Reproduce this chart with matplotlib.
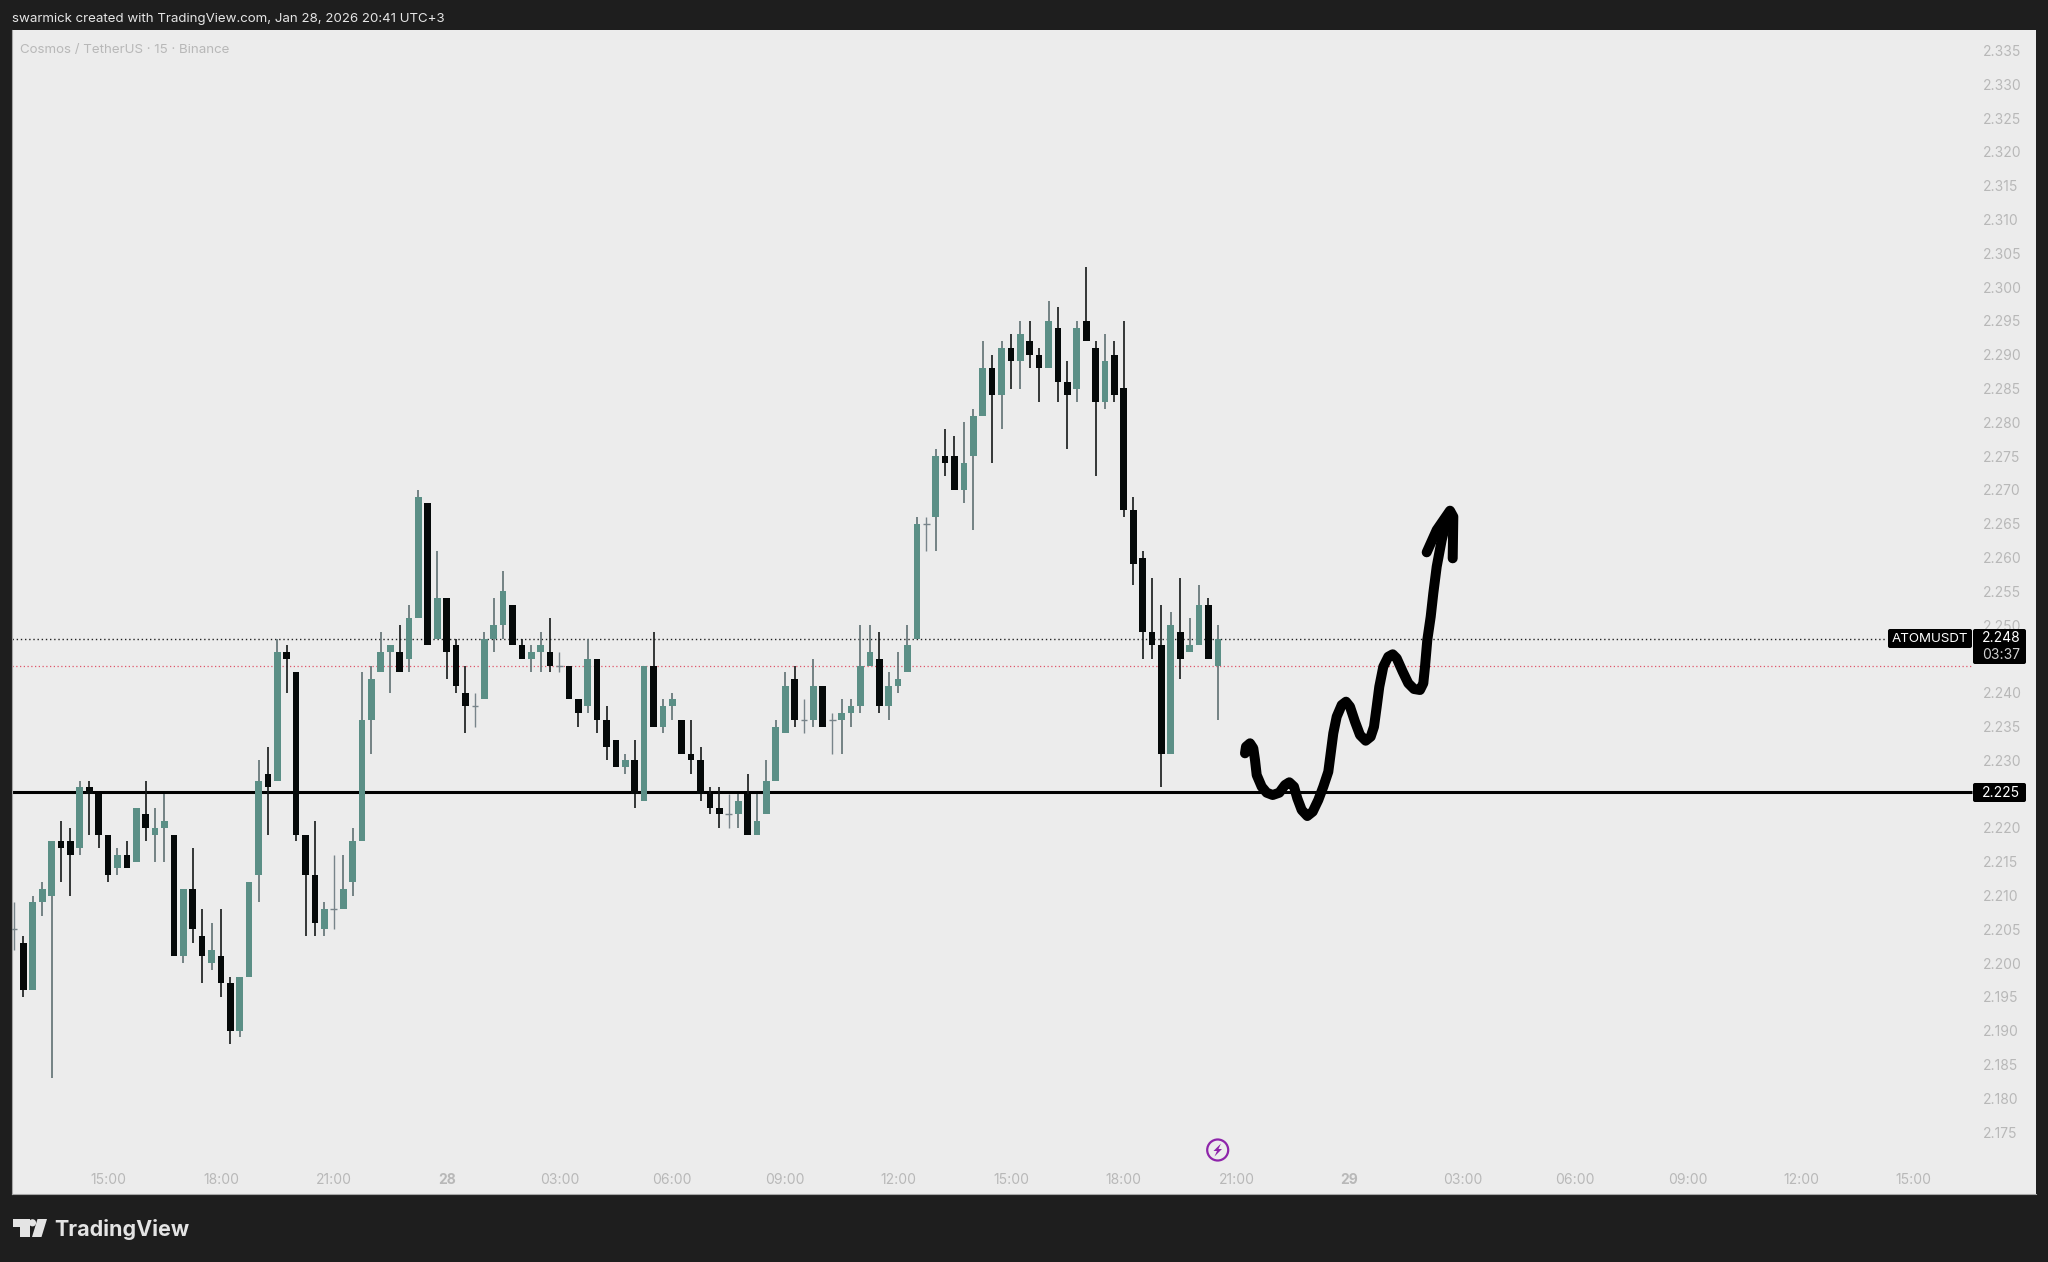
import matplotlib
matplotlib.use("Agg")
import matplotlib.pyplot as plt
from matplotlib.patches import Circle, FancyBboxPatch, Polygon

plt.rcParams["font.family"] = ["Inter", "DejaVu Sans"]

# 15 minute candles, first bar is 12:30
opens = [2.205, 2.203, 2.196, 2.209, 2.210, 2.218, 2.218, 2.217, 2.226, 2.225,
         2.219, 2.214, 2.216, 2.215, 2.222, 2.219, 2.220, 2.219, 2.201, 2.211,
         2.204, 2.200, 2.201, 2.197, 2.190, 2.198, 2.213, 2.228, 2.227, 2.246,
         2.243, 2.219, 2.213, 2.205, 2.208, 2.208, 2.212, 2.218, 2.236, 2.243,
         2.246, 2.246, 2.245, 2.251, 2.268, 2.248, 2.254, 2.247, 2.240, 2.238,
         2.239, 2.248, 2.250, 2.253, 2.247, 2.245, 2.246, 2.246, 2.244, 2.244,
         2.239, 2.238, 2.245, 2.236, 2.233, 2.229, 2.230, 2.224, 2.244, 2.235,
         2.238, 2.236, 2.231, 2.230, 2.225, 2.223, 2.222, 2.222, 2.225, 2.219,
         2.222, 2.227, 2.234, 2.242, 2.236, 2.236, 2.241, 2.236, 2.236, 2.237,
         2.238, 2.244, 2.245, 2.238, 2.241, 2.243, 2.248, 2.265, 2.266, 2.275,
         2.275, 2.270, 2.275, 2.281, 2.288, 2.284, 2.291, 2.289, 2.292, 2.290,
         2.288, 2.294, 2.286, 2.285, 2.295, 2.291, 2.283, 2.290, 2.285, 2.267,
         2.260, 2.249, 2.247, 2.231, 2.249, 2.246, 2.247, 2.253, 2.244]
closes = [2.205, 2.196, 2.209, 2.211, 2.218, 2.217, 2.216, 2.226, 2.225, 2.219,
          2.213, 2.216, 2.214, 2.223, 2.220, 2.220, 2.221, 2.201, 2.211, 2.205,
          2.201, 2.202, 2.197, 2.190, 2.198, 2.212, 2.227, 2.226, 2.246, 2.245,
          2.219, 2.213, 2.206, 2.208, 2.208, 2.211, 2.218, 2.236, 2.242, 2.246,
          2.247, 2.243, 2.251, 2.269, 2.247, 2.254, 2.246, 2.241, 2.238, 2.238,
          2.248, 2.250, 2.255, 2.247, 2.245, 2.246, 2.247, 2.244, 2.244, 2.239,
          2.237, 2.245, 2.236, 2.232, 2.229, 2.230, 2.225, 2.244, 2.235, 2.238,
          2.239, 2.231, 2.230, 2.225, 2.223, 2.222, 2.222, 2.224, 2.219, 2.221,
          2.227, 2.235, 2.241, 2.236, 2.236, 2.241, 2.235, 2.236, 2.237, 2.238,
          2.244, 2.246, 2.238, 2.241, 2.242, 2.247, 2.265, 2.265, 2.275, 2.274,
          2.270, 2.274, 2.281, 2.288, 2.284, 2.291, 2.289, 2.293, 2.290, 2.288,
          2.295, 2.286, 2.284, 2.294, 2.292, 2.283, 2.289, 2.284, 2.267, 2.259,
          2.249, 2.247, 2.231, 2.250, 2.245, 2.247, 2.253, 2.245, 2.248]
highs = [2.209, 2.204, 2.210, 2.212, 2.218, 2.221, 2.220, 2.227, 2.227, 2.225,
         2.219, 2.217, 2.218, 2.223, 2.227, 2.223, 2.225, 2.219, 2.211, 2.217,
         2.208, 2.206, 2.208, 2.198, 2.198, 2.212, 2.230, 2.232, 2.248, 2.247,
         2.243, 2.219, 2.221, 2.209, 2.216, 2.216, 2.220, 2.243, 2.244, 2.249,
         2.247, 2.250, 2.253, 2.270, 2.268, 2.261, 2.254, 2.248, 2.244, 2.240,
         2.249, 2.254, 2.258, 2.253, 2.248, 2.247, 2.249, 2.251, 2.246, 2.244,
         2.239, 2.248, 2.245, 2.238, 2.233, 2.231, 2.233, 2.244, 2.249, 2.239,
         2.240, 2.236, 2.236, 2.232, 2.226, 2.226, 2.225, 2.225, 2.228, 2.225,
         2.230, 2.236, 2.243, 2.244, 2.239, 2.245, 2.241, 2.237, 2.239, 2.239,
         2.250, 2.250, 2.249, 2.243, 2.246, 2.250, 2.266, 2.266, 2.276, 2.279,
         2.278, 2.280, 2.282, 2.292, 2.290, 2.292, 2.293, 2.295, 2.295, 2.291,
         2.298, 2.297, 2.289, 2.295, 2.303, 2.292, 2.293, 2.292, 2.295, 2.269,
         2.261, 2.257, 2.253, 2.252, 2.257, 2.251, 2.256, 2.254, 2.250]
lows = [2.202, 2.195, 2.196, 2.207, 2.183, 2.212, 2.210, 2.216, 2.219, 2.217,
        2.212, 2.213, 2.214, 2.215, 2.218, 2.215, 2.215, 2.201, 2.200, 2.203,
        2.197, 2.199, 2.195, 2.188, 2.189, 2.198, 2.209, 2.219, 2.227, 2.240,
        2.218, 2.204, 2.204, 2.204, 2.205, 2.208, 2.210, 2.218, 2.231, 2.243,
        2.240, 2.243, 2.243, 2.251, 2.247, 2.248, 2.242, 2.240, 2.234, 2.235,
        2.239, 2.246, 2.248, 2.247, 2.245, 2.243, 2.243, 2.243, 2.243, 2.239,
        2.235, 2.237, 2.234, 2.230, 2.229, 2.228, 2.223, 2.224, 2.235, 2.234,
        2.236, 2.231, 2.228, 2.224, 2.222, 2.220, 2.220, 2.220, 2.219, 2.219,
        2.222, 2.227, 2.234, 2.235, 2.234, 2.235, 2.235, 2.231, 2.231, 2.235,
        2.237, 2.244, 2.237, 2.236, 2.240, 2.243, 2.248, 2.261, 2.261, 2.272,
        2.270, 2.268, 2.264, 2.281, 2.274, 2.279, 2.285, 2.285, 2.288, 2.283,
        2.288, 2.283, 2.276, 2.283, 2.292, 2.272, 2.282, 2.283, 2.266, 2.256,
        2.245, 2.245, 2.226, 2.231, 2.242, 2.246, 2.247, 2.245, 2.236]

price_ticks = [2.175 + 0.005 * i for i in range(33)]
hidden_tick = 2.245  # sits fully behind the price tag in the screenshot
time_bars = [10, 22, 34, 46, 58, 70, 82, 94, 106, 118, 130, 142, 154, 166, 178, 190, 202]
time_labels = ["15:00", "18:00", "21:00", "28", "03:00", "06:00", "09:00", "12:00", "15:00",
               "18:00", "21:00", "29", "03:00", "06:00", "09:00", "12:00", "15:00"]

support = 2.2253
last_price = 2.248
red_line = 2.244

# hand drawn arrow, in picture pixels
stroke_x = [1245, 1246, 1250, 1253.3, 1255, 1256.7, 1261.7, 1266.7, 1272.7, 1279.3, 1285, 1289.3,
            1294, 1297.3, 1301.7, 1307.3, 1312.7, 1318.3, 1323.3, 1328.3, 1330.7, 1333.3, 1336.7,
            1341.7, 1346, 1350, 1355, 1360, 1365.7, 1370.7, 1374, 1376.7, 1379.3, 1383.3, 1388.3,
            1392.7, 1396.7, 1402.7, 1408.3, 1414, 1420, 1423.3, 1425, 1427.3, 1430.7, 1433.3,
            1436.7, 1441.7, 1446.7, 1450]
stroke_y = [753.3, 746.7, 743.3, 748.3, 760, 775, 786.7, 792.7, 795, 792.7, 785, 782.3,
            786.7, 798.3, 810, 816, 811.7, 800, 786.7, 771.7, 753.3, 733.3, 716.7,
            705, 701.7, 706.7, 721.7, 735, 740.7, 736.7, 726.7, 706.7, 686.7, 666.7, 656.7,
            654.3, 658.3, 671.7, 683.3, 689, 690, 683.3, 666.7, 640, 616.7, 593.3,
            566.7, 540, 520, 511.7]
head_x = [1426.7, 1436.7, 1450, 1453.3, 1452.7]
head_y = [552.3, 530, 510.7, 516.7, 558.3]

W, H = 2048, 1262
PANEL = (12, 30, 2036, 1194)  # left, top, right, bottom in pixels
DARK = "#1e1e1e"
PANEL_BG = "#ececec"
GREEN = "#5b8f86"
BLACK = "#050909"
LABEL = "#b8b8b8"


# picture pixels to bar number / price
def bar_at(px):
    return (px - 14) / 9.405


def price_at(py):
    return 2.24 + (692.7 - py) / 6760


fig = plt.figure(figsize=(W / 100, H / 100), dpi=100, facecolor=DARK)

ax = fig.add_axes([PANEL[0] / W, 1 - PANEL[3] / H, (PANEL[2] - PANEL[0]) / W, (PANEL[3] - PANEL[1]) / H],
                  facecolor=PANEL_BG, zorder=1)
ax.set_xlim(bar_at(PANEL[0]), bar_at(PANEL[2]))
ax.set_ylim(price_at(PANEL[3]), price_at(PANEL[1]))

for name, sp in ax.spines.items():
    sp.set_visible(name in ("left", "bottom"))
    sp.set_color("#a6a6a6")
    sp.set_linewidth(0.8)

ax.hlines(support, bar_at(PANEL[0]), bar_at(1972), color="black", lw=2.2, zorder=2)
ax.hlines(last_price, bar_at(PANEL[0]), bar_at(1886), color="#222222", lw=1.0, linestyles=(0, (1, 2)), zorder=2)
ax.hlines(red_line, bar_at(PANEL[0]), bar_at(1971), color="#e0566a", lw=0.9, linestyles=(0, (1, 2)), zorder=2)

for i in range(len(opens)):
    o, c, h, l = opens[i], closes[i], highs[i], lows[i]
    up = c >= o
    if o == c:
        ax.vlines(i, l, h, color="#78848a", lw=1.0, zorder=3)
        ax.hlines(o, i - 0.35, i + 0.35, color="#78848a", lw=1.0, zorder=3)
        continue
    ax.vlines(i, l, h, color="#5f7072" if up else "#141818", lw=1.2, zorder=3)
    ax.bar(i, abs(c - o), bottom=min(o, c), width=0.71, color=GREEN if up else BLACK, zorder=4)

ax.yaxis.tick_right()
ax.set_yticks(price_ticks)
ax.set_yticklabels(["" if abs(p - hidden_tick) < 1e-6 else f"{p:.3f}" for p in price_ticks])
ax.tick_params(axis="y", length=0, pad=-38, labelsize=10, labelcolor=LABEL)
ax.set_xticks(time_bars)
ax.set_xticklabels(time_labels)
ax.tick_params(axis="x", length=0, pad=-15, labelsize=10, labelcolor=LABEL)
for lab in ax.get_xticklabels():
    if lab.get_text() in ("28", "29"):
        lab.set_fontweight("bold")

# overlay in picture pixels: labels, arrow, icon, frame text
top = fig.add_axes([0, 0, 1, 1], zorder=2)
top.set_xlim(0, W)
top.set_ylim(H, 0)
top.axis("off")

top.plot(stroke_x, stroke_y, color="black", lw=7.2, solid_capstyle="round", solid_joinstyle="round", zorder=5)
top.plot(head_x, head_y, color="black", lw=7.2, solid_capstyle="round", solid_joinstyle="round", zorder=5)


def tag(x0, y0, x1, y1):
    top.add_patch(FancyBboxPatch((x0 + 2, y0 + 2), x1 - x0 - 4, y1 - y0 - 4,
                                 boxstyle="round,pad=2,rounding_size=2", fc="black", ec="none", zorder=6))


tag(1888, 629, 1972, 648)
tag(1973, 629, 2026, 664)
tag(1973, 783, 2026, 802)
top.text(1930, 639, "ATOMUSDT", color="white", fontsize=9.6, ha="center", va="center", zorder=7)
top.text(2001, 638.5, "2.248", color="white", fontsize=10, ha="center", va="center", zorder=7)
top.text(2001, 655, "03:37", color="#cfcfcf", fontsize=10, ha="center", va="center", zorder=7)
top.text(2001, 793, "2.225", color="white", fontsize=10, ha="center", va="center", zorder=7)

# lightning icon
top.add_patch(Circle((1217.7, 1150), 10.5, fc="none", ec="#8e24aa", lw=1.6, zorder=5))
top.add_patch(Polygon([(1221, 1143.5), (1213.5, 1151), (1217, 1151), (1214.5, 1156.5),
                       (1222, 1149), (1218.5, 1149)], fc="#8e24aa", ec="none", zorder=5))

top.text(12, 19, "swarmick created with TradingView.com, Jan 28, 2026 20:41 UTC+3",
         color="#e6e6e6", fontsize=9.55, ha="left", va="center")
top.text(20, 49.5, "Cosmos / TetherUS · 15 · Binance", color=LABEL, fontsize=9.6, ha="left", va="center", zorder=5)

# TradingView logo
logo = "#e4e4e4"
top.add_patch(Polygon([(13, 1219), (29.5, 1219), (29.5, 1237), (19.5, 1237), (19.5, 1226.5), (13, 1226.5)],
                      fc=logo, ec="none"))
top.add_patch(Circle((32.5, 1222.8), 3.6, fc=logo, ec="none"))
top.add_patch(Polygon([(37.5, 1219), (47, 1219), (41.5, 1237), (32, 1237)], fc=logo, ec="none"))
top.text(54, 1229.5, "TradingView", color=logo, fontsize=15.5, fontweight="bold", ha="left", va="center")

fig.savefig("out.png", dpi=100, facecolor=DARK)
